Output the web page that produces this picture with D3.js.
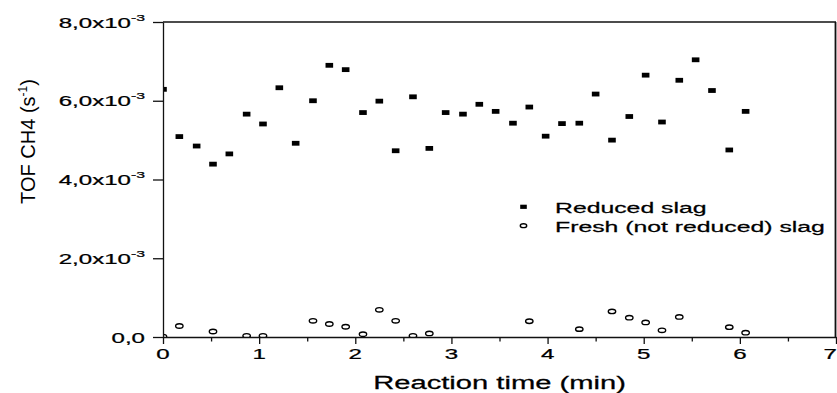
<!DOCTYPE html>
<meta charset="utf-8" />
<style>
  html, body { margin: 0; padding: 0; background: #fff; }
  svg { display: block; font-family: "Liberation Sans", Arial, sans-serif; }
</style>
<script src="https://d3js.org/d3.v7.min.js"></script>
<div id="chart"></div>
<script>
  // reaction time (min) for the reduced slag points
  const time = [0, 0.17, 0.35, 0.52, 0.69, 0.87, 1.04, 1.21, 1.38, 1.56, 1.73, 1.90,
    2.08, 2.25, 2.42, 2.60, 2.77, 2.94, 3.12, 3.29, 3.46, 3.64, 3.81, 3.98,
    4.15, 4.33, 4.50, 4.67, 4.85, 5.02, 5.19, 5.37, 5.54, 5.71, 5.89, 6.06];
  // TOF CH4 (s-1), reduced slag
  const reduced = [0.00629, 0.00509, 0.00485, 0.00439, 0.00465, 0.00566, 0.00541, 0.00633,
    0.00492, 0.00600, 0.00690, 0.00679, 0.00570, 0.00599, 0.00473, 0.00610, 0.00479,
    0.00570, 0.00566, 0.00591, 0.00573, 0.00543, 0.00584, 0.00510, 0.00542, 0.00543,
    0.00617, 0.00500, 0.00560, 0.00665, 0.00546, 0.00652, 0.00704, 0.00626, 0.00475, 0.00573];
  // fresh (not reduced) slag
  const freshTime = [0, 0.17, 0.52, 0.87, 1.04, 1.56, 1.73, 1.90, 2.08, 2.25, 2.42,
    2.60, 2.77, 3.81, 4.33, 4.67, 4.85, 5.02, 5.19, 5.37, 5.89, 6.06];
  const fresh = [0.00001, 0.00028, 0.00014, 0.00003, 0.00003, 0.00041, 0.00033, 0.00026,
    0.00007, 0.00069, 0.00041, 0.00003, 0.00009, 0.00040, 0.00020, 0.00065, 0.00049,
    0.00037, 0.00017, 0.00051, 0.00025, 0.00011];

  const xTicks = [0, 1, 2, 3, 4, 5, 6, 7];
  const xMinorTicks = [0.5, 1.5, 2.5, 3.5, 4.5, 5.5, 6.5];
  const yTicks = [0, 0.002, 0.004, 0.006, 0.008];
  const yTickLabels = ['0,0', '2,0', '4,0', '6,0', '8,0'];
  const legendLabels = ['Reduced slag', 'Fresh (not reduced) slag'];

  const width = 837, height = 393;
  const margin = { top: 22, right: 1, bottom: 56, left: 163 };

  const svg = d3.select('#chart').append('svg')
    .attr('width', width)
    .attr('height', height);

  const x = d3.scaleLinear().domain([0, 7]).range([margin.left, width - margin.right]);
  const y = d3.scaleLinear().domain([0, 0.008]).range([height - margin.bottom, margin.top]);

  // the picture is stretched sideways, so horizontal text gets a x-scale
  function wideText(parent, px, py, sx, anchor, size) {
    return parent.append('g')
      .attr('transform', `translate(${px},${py}) scale(${sx},1)`)
      .append('text')
      .attr('text-anchor', anchor)
      .attr('font-size', size)
      .attr('fill', '#000')
      .attr('stroke', '#000')
      .attr('stroke-width', 0.25);
  }

  // clip to the plot frame
  svg.append('clipPath').attr('id', 'plotClip')
    .append('rect')
    .attr('x', x(0)).attr('y', y(0.008))
    .attr('width', x(7) - x(0)).attr('height', y(0) - y(0.008));

  const plot = svg.append('g').attr('clip-path', 'url(#plotClip)');

  plot.selectAll('rect.red')
    .data(time)
    .enter()
    .append('rect')
    .attr('class', 'red')
    .attr('x', (d) => x(d) - 3.8)
    .attr('y', (d, i) => y(reduced[i]) - 2.4)
    .attr('width', 7.6)
    .attr('height', 4.8)
    .attr('fill', '#000');

  plot.selectAll('ellipse.fresh')
    .data(freshTime)
    .enter()
    .append('ellipse')
    .attr('class', 'fresh')
    .attr('cx', (d) => x(d))
    .attr('cy', (d, i) => y(fresh[i]))
    .attr('rx', 3.7)
    .attr('ry', 2.2)
    .attr('fill', 'none')
    .attr('stroke', '#000')
    .attr('stroke-width', 1.4);

  // axes
  svg.append('g')
    .attr('transform', `translate(0,${y(0)})`)
    .call(d3.axisBottom(x).tickValues(xTicks).tickSize(7).tickSizeOuter(0).tickFormat(''));
  svg.append('g')
    .attr('transform', `translate(0,${y(0)})`)
    .call(d3.axisBottom(x).tickValues(xMinorTicks).tickSize(4.5).tickSizeOuter(0).tickFormat(''))
    .select('.domain').remove();
  svg.append('g')
    .attr('transform', `translate(${x(0)},0)`)
    .call(d3.axisLeft(y).tickValues(yTicks).tickSize(10).tickSizeOuter(0).tickFormat(''));

  svg.selectAll('.domain, .tick line')
    .attr('stroke', '#111')
    .attr('stroke-width', 1.3);

  // top and right frame lines
  svg.append('line')
    .attr('x1', x(0)).attr('x2', x(7))
    .attr('y1', y(0.008)).attr('y2', y(0.008))
    .attr('stroke', '#111').attr('stroke-width', 1.3);
  svg.append('line')
    .attr('x1', x(7) - 0.5).attr('x2', x(7) - 0.5)
    .attr('y1', y(0.008)).attr('y2', y(0))
    .attr('stroke', '#111').attr('stroke-width', 1.8);

  // x tick labels (last one kept inside the window)
  xTicks.forEach((t, i) => {
    const last = i === xTicks.length - 1;
    wideText(svg, last ? x(t) + 1 : x(t), y(0) + 22, 1.66, last ? 'end' : 'middle', 14.5).text(t);
  });

  // y tick labels with x10^-3
  yTicks.forEach((t, i) => {
    const txt = wideText(svg, 145, y(t) + 5.5, 1.66, 'end', 14.5);
    if (t === 0) {
      txt.text(yTickLabels[i]);
    } else {
      txt.append('tspan').text(yTickLabels[i] + 'x10');
      txt.append('tspan').attr('dy', -7).attr('font-size', 9.5).text('-3');
    }
  });

  // axis titles
  wideText(svg, x(3.5), 389, 1.62, 'middle', 18).text('Reaction time (min)');

  const yTitle = svg.append('text')
    .attr('transform', `translate(35,${(y(0.008) + y(0)) / 2 - 38}) rotate(-90)`)
    .attr('text-anchor', 'middle')
    .attr('font-size', 20)
    .attr('fill', '#000');
  yTitle.append('tspan').text('TOF CH4 (s');
  yTitle.append('tspan').attr('dy', -8).attr('font-size', 12).text('-1');
  yTitle.append('tspan').attr('dy', 8).text(')');

  // legend
  const legendX = 523.5;
  svg.append('rect')
    .attr('x', legendX - 3.3).attr('y', 204.7)
    .attr('width', 6.6).attr('height', 4.2)
    .attr('fill', '#000');
  svg.append('ellipse')
    .attr('cx', legendX).attr('cy', 225.7)
    .attr('rx', 3.2).attr('ry', 1.9)
    .attr('fill', 'none').attr('stroke', '#000').attr('stroke-width', 1.4);
  wideText(svg, 555, 212.5, 1.6, 'start', 15.5).text(legendLabels[0]);
  wideText(svg, 555, 231.5, 1.6, 'start', 15.5).text(legendLabels[1]);
</script>
